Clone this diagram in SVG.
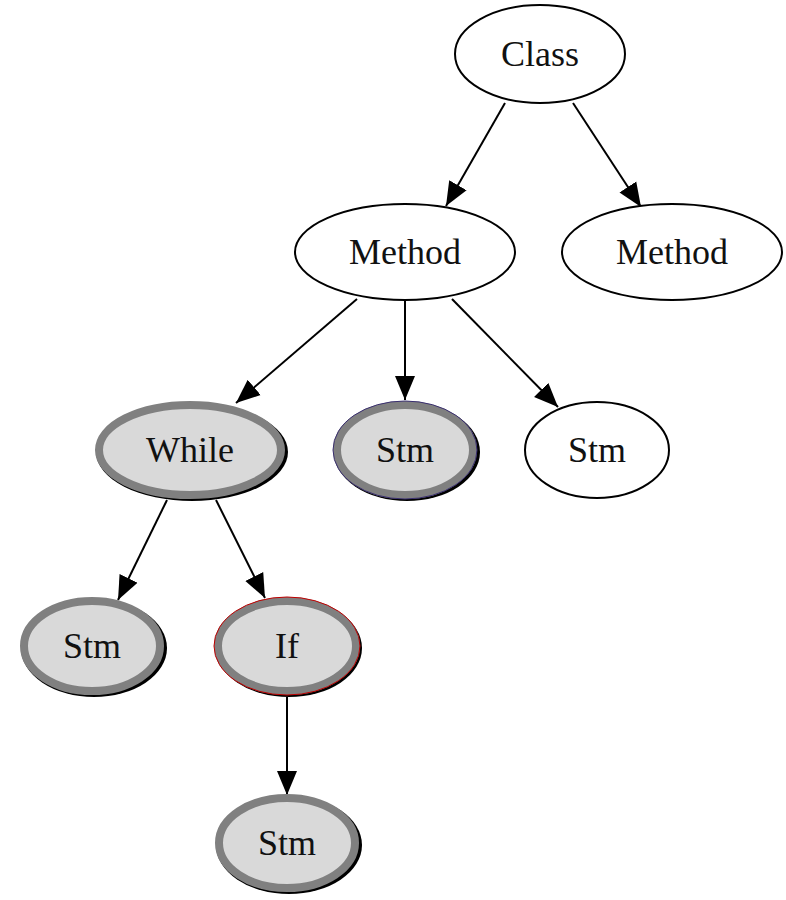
<svg xmlns="http://www.w3.org/2000/svg" width="786" height="900" viewBox="0 0 786 900">
<style>
.plain{fill:#fff;stroke:#000;stroke-width:2}
.shadow{fill:#000;stroke:none}
.hl{fill:#d9d9d9;stroke:#808080;stroke-width:8}
text{font-family:"Liberation Serif","Times New Roman",serif;font-size:36px;text-anchor:middle;fill:#111}
.edge{stroke:#000;stroke-width:2;fill:none;marker-end:url(#arr)}
</style>
<defs>
<marker id="arr" markerUnits="userSpaceOnUse" markerWidth="26" markerHeight="22" refX="24" refY="11" orient="auto">
<polygon points="0,1 24,11 0,21" fill="#000"/>
</marker>
</defs>
<rect width="786" height="900" fill="#fff"/>
<g id="edges">
<line class="edge" x1="505" y1="103" x2="446" y2="206"/>
<line class="edge" x1="573" y1="103" x2="641" y2="207"/>
<line class="edge" x1="357" y1="299" x2="236" y2="403"/>
<line class="edge" x1="405" y1="300" x2="405" y2="400"/>
<line class="edge" x1="452" y1="299" x2="558" y2="407"/>
<line class="edge" x1="167" y1="500" x2="118" y2="600"/>
<line class="edge" x1="216" y1="500" x2="265" y2="598"/>
<line class="edge" x1="287" y1="697" x2="287" y2="795"/>
</g>
<g id="class"><ellipse class="plain" cx="540" cy="54" rx="85" ry="49"/><text x="540" y="66">Class</text></g>
<g id="method1"><ellipse class="plain" cx="405" cy="252" rx="110" ry="48"/><text x="405" y="264">Method</text></g>
<g id="method2"><ellipse class="plain" cx="672" cy="252" rx="110" ry="48"/><text x="672" y="264">Method</text></g>
<g id="while"><ellipse class="shadow" cx="192" cy="452" rx="96" ry="49"/><ellipse class="hl" cx="190" cy="450" rx="91" ry="45"/><text x="190" y="462">While</text></g>
<g id="stm-mid"><ellipse class="shadow" cx="407" cy="452" rx="73" ry="49"/><ellipse class="hl" cx="405" cy="450" rx="68" ry="45"/><ellipse cx="405" cy="450" rx="72" ry="49" fill="none" stroke="#3a2f70" stroke-width="1"/><text x="405" y="462">Stm</text></g>
<g id="stm-right"><ellipse class="plain" cx="597" cy="450" rx="72" ry="48"/><text x="597" y="462">Stm</text></g>
<g id="stm-left"><ellipse class="shadow" cx="94" cy="648" rx="73" ry="49"/><ellipse class="hl" cx="92" cy="646" rx="68" ry="45"/><text x="92" y="658">Stm</text></g>
<g id="if"><ellipse class="shadow" cx="289" cy="648" rx="73" ry="49"/><ellipse class="hl" cx="287" cy="646" rx="69" ry="45"/><ellipse cx="287" cy="646" rx="73" ry="49" fill="none" stroke="#c00000" stroke-width="1"/><text x="287" y="658">If</text></g>
<g id="stm-bottom"><ellipse class="shadow" cx="289" cy="845" rx="73" ry="49"/><ellipse class="hl" cx="287" cy="843" rx="68" ry="45"/><text x="287" y="855">Stm</text></g>
</svg>
